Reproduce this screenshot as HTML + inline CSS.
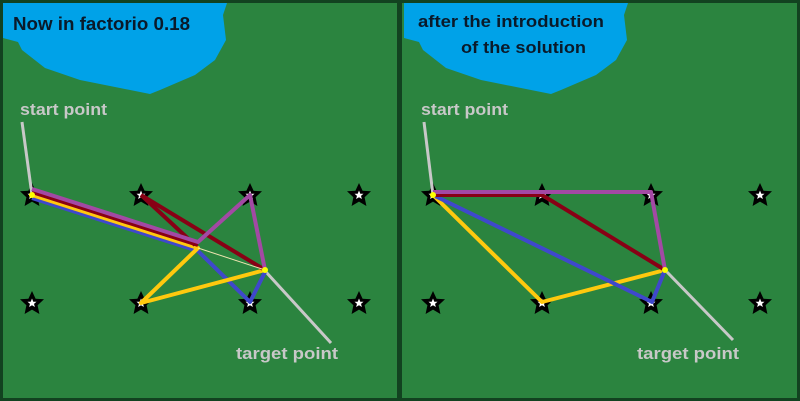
<!DOCTYPE html>
<html><head><meta charset="utf-8"><style>
html,body{margin:0;padding:0;width:800px;height:401px;overflow:hidden;background:#124220}
svg{display:block}
text{font-family:"Liberation Sans",sans-serif;font-weight:bold}
</style></head><body>
<svg width="800" height="401" viewBox="0 0 800 401" xmlns="http://www.w3.org/2000/svg">
<defs>
<g id="star"><polygon points="0,-12 3.6,-4.2 12,-3.8 5.6,2.2 7.4,11 0,6.6 -7.4,11 -5.6,2.2 -12,-3.8 -3.6,-4.2" fill="#000"/><polygon points="0,-4.5 1.3,-1.3 4.5,-1.3 2,0.9 2.9,4 0,2.3 -2.9,4 -2,0.9 -4.5,-1.3 -1.3,-1.3" fill="#fff"/></g>
<g id="stars">
<use href="#star" x="32" y="195"/><use href="#star" x="141" y="195"/><use href="#star" x="250" y="195"/><use href="#star" x="359" y="195"/>
<use href="#star" x="32" y="303"/><use href="#star" x="141" y="303"/><use href="#star" x="250" y="303"/><use href="#star" x="359" y="303"/>
</g>
<path id="lake" d="M3,3 L227,3 L223,15 L226,40 L215,60 L195,75 L160,90 L150,94 L120,88 L80,80 L45,68 L22,50 L18,42 L3,38 Z" fill="#00a2e8"/>
</defs>
<rect x="3" y="3" width="394" height="395" fill="#2b843f"/>
<rect x="402" y="3" width="395" height="395" fill="#2b843f"/>
<use href="#lake"/>
<use href="#lake" x="401"/>
<text x="13" y="30" font-size="18" fill="#0a1a2a" textLength="177" lengthAdjust="spacingAndGlyphs">Now in factorio 0.18</text>
<text x="418" y="27" font-size="17" fill="#0a1a2a" textLength="186" lengthAdjust="spacingAndGlyphs">after the introduction</text>
<text x="461" y="53" font-size="17" fill="#0a1a2a" textLength="125" lengthAdjust="spacingAndGlyphs">of the solution</text>
<text x="20" y="115" font-size="17" fill="#c8c8c8" textLength="87" lengthAdjust="spacingAndGlyphs">start point</text>
<text x="421" y="115" font-size="17" fill="#c8c8c8" textLength="87" lengthAdjust="spacingAndGlyphs">start point</text>
<text x="236" y="359" font-size="17" fill="#c8c8c8" textLength="102" lengthAdjust="spacingAndGlyphs">target point</text>
<text x="637" y="359" font-size="17" fill="#c8c8c8" textLength="102" lengthAdjust="spacingAndGlyphs">target point</text>
<use href="#stars"/>
<use href="#stars" x="401"/>
<g stroke="#c8c8c8" stroke-width="3" fill="none">
<line x1="22" y1="122" x2="32" y2="195"/><line x1="266" y1="272" x2="331" y2="343"/>
<line x1="424" y1="122" x2="433" y2="195"/><line x1="667" y1="272" x2="733" y2="340"/>
</g>
<g fill="none" stroke-width="4" stroke-linejoin="round">
<polyline stroke="#3f48cc" points="32,198 198,251 250,302 265,272"/>
<polyline stroke="#ffc90e" points="32,195 198,248 141,303 265,270"/>
<polyline stroke="#880015" points="32,192 198,245"/>
<polyline stroke="#880015" points="141,195 195,245"/>
<polyline stroke="#880015" points="141,195 265,270"/>
<polyline stroke="#a349a4" points="32,189 198,242 250,195 265,270"/>
<line x1="198" y1="248" x2="265" y2="270" stroke="#efe4b0" stroke-width="1"/>
<circle cx="265" cy="270" r="3" fill="#ff0" stroke="none"/><circle cx="32" cy="195" r="3" fill="#ff0" stroke="none"/>
</g>
<g fill="none" stroke-width="4" stroke-linejoin="round">
<polyline stroke="#ffc90e" points="433,195 542,302 665,270"/>
<polyline stroke="#3f48cc" points="433,195 652,302 665,270"/>
<polyline stroke="#880015" points="433,195 542,195 665,270"/>
<polyline stroke="#a349a4" points="433,192 651,192 665,270"/>
<circle cx="665" cy="270" r="3" fill="#ff0" stroke="none"/><circle cx="433" cy="195" r="3" fill="#ff0" stroke="none"/>
</g>
</svg>
</body></html>
